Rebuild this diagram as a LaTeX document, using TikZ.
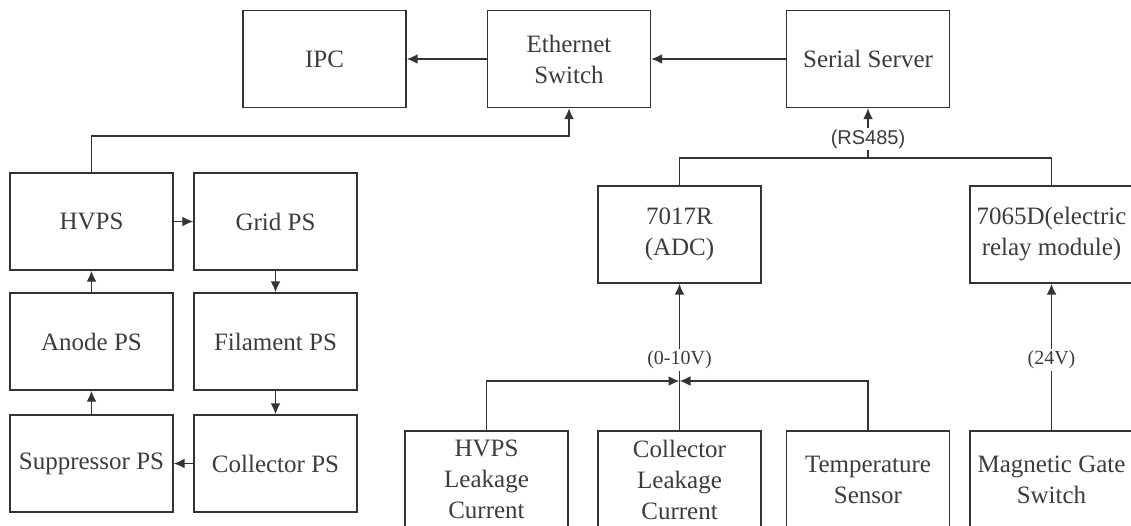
\documentclass[tikz,border=0pt]{standalone}
\usepackage{fontspec}
\setmainfont{Liberation Serif}
\newfontfamily\labsans{Liberation Sans}
\usetikzlibrary{arrows.meta}
\definecolor{ink}{HTML}{333333}
\definecolor{txt}{HTML}{3C3C3C}
\begin{document}
\begin{tikzpicture}[x=1pt,y=-1pt,
  box/.style={draw=ink, line width=1.4pt, minimum width=163pt, minimum height=97pt, inner sep=0pt, align=center, font=\fontsize{25}{31}\selectfont, text=txt},
  wire/.style={draw=ink, line width=1.8pt},
  conn/.style={wire, -{Latex[length=11pt,width=10pt]}},
  lab/.style={fill=white, inner sep=1.5pt, text=txt, font=\fontsize{20}{24}\selectfont}]
\useasboundingbox (0,0) rectangle (1131,526);
\clip (0,0) rectangle (1131,526);
% top row
\node[box] (ipc) at (324.5,59) {IPC};
\node[box] (eth) at (569,59) {Ethernet\\Switch};
\node[box] (ser) at (868,59) {Serial Server};
% power supplies
\node[box] (hvps) at (91.5,221.5) {HVPS};
\node[box] (grid) at (275.5,221.5) {Grid PS};
\node[box] (anode) at (91.5,341.5) {Anode PS};
\node[box] (fil) at (275.5,341.5) {Filament PS};
\node[box] (sup) at (91.5,463.5) {Suppressor PS};
\node[box] (colps) at (275.5,463.5) {Collector PS};
% modules
\node[box] (adc) at (679.5,234.5) {7017R\\(ADC)};
\node[box] (relay) at (1051.5,234.5) {7065D(electric\\relay module)};
% sensors
\node[box] (hl) at (486.5,479.5) {HVPS\\Leakage\\Current};
\node[box] (cl) at (679.5,479.5) {Collector\\Leakage\\Current};
\node[box] (temp) at (868,479.5) {Temperature\\Sensor};
\node[box] (mg) at (1051.5,479.5) {Magnetic Gate\\Switch};
% connectors top
\draw[conn] (eth.west) -- (ipc.east);
\draw[conn] (ser.west) -- (eth.east);
\draw[conn] (hvps.north) -- ++(0,-36) -| (eth.south);
% PS loop
\draw[conn] (hvps.east) -- (grid.west);
\draw[conn] (grid.south) -- (fil.north);
\draw[conn] (fil.south) -- (colps.north);
\draw[conn] (colps.west) -- (sup.east);
\draw[conn] (sup.north) -- (anode.south);
\draw[conn] (anode.north) -- (hvps.south);
% RS485 bus
\coordinate (bus) at (868,158);
\draw[wire] (adc.north) -- (adc.north |- bus) -- (relay.north |- bus) -- (relay.north);
\draw[conn] (bus) -- (ser.south) node[lab, pos=0.38, font=\labsans\fontsize{20}{24}\selectfont] {(RS485)};
% 0-10V
\coordinate (jn) at (679.5,381);
\draw[conn] (hl.north) |- (jn);
\draw[conn] (temp.north) |- (jn);
\draw[conn] (cl.north) -- (adc.south) node[lab, pos=0.48] {(0-10V)};
% 24V
\draw[conn] (mg.north) -- (relay.south) node[lab, pos=0.48] {(24V)};
\end{tikzpicture}
\end{document}
